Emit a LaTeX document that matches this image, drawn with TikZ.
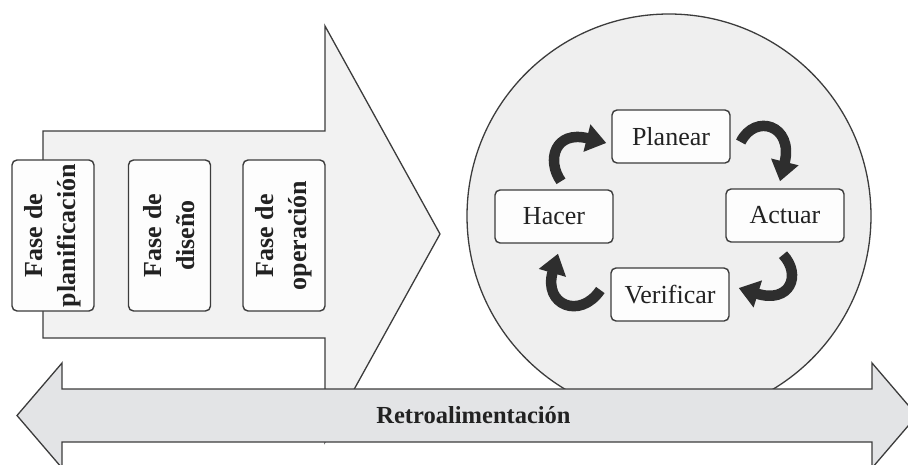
\documentclass[tikz,border=0pt]{standalone}
\usepackage{fontspec}
\setmainfont{Liberation Serif}
\usetikzlibrary{arrows.meta,calc,shapes.geometric}

\definecolor{edge}{HTML}{3C3C3C}
\definecolor{flowfill}{HTML}{F2F2F2}
\definecolor{ringfill}{HTML}{EFEFEF}
\definecolor{barfill}{HTML}{E3E4E6}
\definecolor{boxfill}{HTML}{FDFDFD}
\definecolor{ink}{HTML}{222222}

\tikzset{
  outline/.style={draw=edge, line width=1.3pt, line join=miter},
  phasebox/.style={draw=edge, line width=1.4pt, fill=boxfill, rounded corners=5pt,
    rotate=90, minimum width=151pt, minimum height=82pt, inner sep=0pt,
    align=center, text=ink, font=\fontsize{26}{33}\selectfont\bfseries},
  stepnode/.style={draw=edge, line width=1.4pt, fill=boxfill, rounded corners=5pt,
    minimum width=118pt, minimum height=53pt, inner sep=0pt,
    text=ink, font=\fontsize{26}{30}\selectfont},
  cyclearrow/.style={line width=10.5pt, draw=black!82,
    -{Triangle[width=27pt,length=20pt]}},
}

\begin{document}
\begin{tikzpicture}[x=1pt, y=-1pt]
  \useasboundingbox (0,0) rectangle (908,464);
  \clip (0,0) rectangle (908,464);

  % main process arrow
  \path[outline, fill=flowfill]
    (43,131) -- (325,131) -- (325,26) -- (440,234) -- (325,442)
    -- (325,338) -- (43,338) -- cycle;

  % phases
  \node[phasebox] (plan) at (53,235.5)  {Fase de\\planificación};
  \node[phasebox] (dis)  at (169.5,235.5) {Fase de\\diseño};
  \node[phasebox] (oper) at (284,235.5)  {Fase de\\operación};

  % improvement cycle
  \node[circle, draw=edge, line width=1.3pt, fill=ringfill,
        minimum size=404pt, inner sep=0pt] (ring) at (669,216) {};

  \node[stepnode] (planear)   at (671,136.5) {Planear};
  \node[stepnode] (hacer)     at (554,216.5) {Hacer};
  \node[stepnode] (actuar)    at (785,215.5) {Actuar};
  \node[stepnode] (verificar) at (670,294.5) {Verificar};

  \draw[cyclearrow] ($(hacer.north)+(7,-8)$)
    .. controls (546,160) and (555,130) .. ($(planear.west)+(-5,6.5)$);
  \draw[cyclearrow] ($(planear.east)+(10,5.5)$)
    .. controls (755,113) and (794,125) .. ($(actuar.north)+(-5,-7)$);
  \draw[cyclearrow] ($(actuar.south)+(-2,12)$)
    .. controls (802,275) and (790,304) .. ($(verificar.east)+(9,-6.5)$);
  \draw[cyclearrow] ($(verificar.west)+(-10,-4.5)$)
    .. controls (580,320) and (543,305) .. ($(hacer.south)+(4,10)$);

  % feedback double arrow
  \path[outline, fill=barfill]
    (17,415.5) -- (62,363) -- (62,389) -- (872,389) -- (872,363)
    -- (917,415.5) -- (872,468) -- (872,442) -- (62,442) -- (62,468) -- cycle;
  \node[text=ink, font=\fontsize{24.5}{28}\selectfont\bfseries] (retro)
    at (473.5,415.5) {Retroalimentación};
\end{tikzpicture}
\end{document}
